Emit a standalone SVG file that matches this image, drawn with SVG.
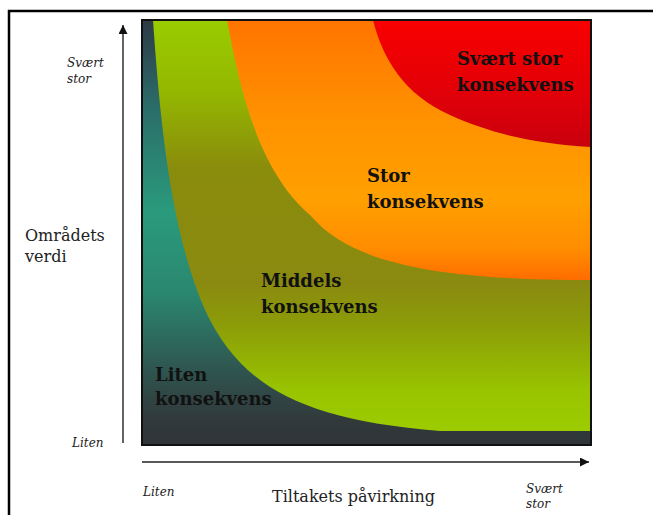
<svg xmlns="http://www.w3.org/2000/svg" width="653" height="515" viewBox="0 0 653 515">
  <defs>
    <linearGradient id="bg" gradientUnits="userSpaceOnUse" x1="0" y1="20" x2="0" y2="445">
      <stop offset="0" stop-color="#2e3a46"/>
      <stop offset="0.2" stop-color="#2b6c68"/>
      <stop offset="0.45" stop-color="#2a9a7c"/>
      <stop offset="0.64" stop-color="#2a8870"/>
      <stop offset="0.82" stop-color="#2f5650"/>
      <stop offset="0.94" stop-color="#31393b"/>
      <stop offset="1" stop-color="#2f3538"/>
    </linearGradient>
    <linearGradient id="greenG" gradientUnits="userSpaceOnUse" x1="0" y1="20" x2="0" y2="431">
      <stop offset="0" stop-color="#99cc00"/>
      <stop offset="0.17" stop-color="#94b800"/>
      <stop offset="0.36" stop-color="#8a8c0c"/>
      <stop offset="0.64" stop-color="#8a8a10"/>
      <stop offset="0.74" stop-color="#8c9c08"/>
      <stop offset="0.9" stop-color="#98c400"/>
      <stop offset="1" stop-color="#9ccc00"/>
    </linearGradient>
    <linearGradient id="orangeG" gradientUnits="userSpaceOnUse" x1="0" y1="20" x2="0" y2="282">
      <stop offset="0" stop-color="#ff7400"/>
      <stop offset="0.38" stop-color="#ff9200"/>
      <stop offset="0.68" stop-color="#ffa000"/>
      <stop offset="0.88" stop-color="#ff8c00"/>
      <stop offset="1" stop-color="#ff6a00"/>
    </linearGradient>
    <linearGradient id="redG" gradientUnits="userSpaceOnUse" x1="0" y1="20" x2="0" y2="148">
      <stop offset="0" stop-color="#f80000"/>
      <stop offset="0.6" stop-color="#e00008"/>
      <stop offset="1" stop-color="#c8000e"/>
    </linearGradient>
    <marker id="arrow" viewBox="0 0 10 10" refX="10" refY="5" markerWidth="9" markerHeight="9" markerUnits="userSpaceOnUse" orient="auto">
      <path d="M0,0 L10,5 L0,10 Z" fill="#111"/>
    </marker>
  </defs>
  <style>
    .big { font-family: "DejaVu Serif", "Liberation Serif", serif; font-weight: bold; font-size: 18px; fill: #111; }
    .axis { font-family: "DejaVu Serif", "Liberation Serif", serif; font-size: 16px; fill: #222; }
    .small { font-family: "DejaVu Serif", "Liberation Serif", serif; font-style: italic; font-size: 12px; fill: #222; }
    .axisline { stroke: #222; stroke-width: 1.4; fill: none; }
  </style>

  <rect x="0" y="0" width="653" height="515" fill="#ffffff"/>
  <!-- outer frame -->
  <path d="M9,515 V11 H653" fill="none" stroke="#000" stroke-width="2.5"/>

  <g id="liten">
    <rect x="142" y="20" width="449" height="425" fill="url(#bg)"/>
    <text class="big" x="155" y="381" fill="#1a211f">Liten</text>
    <text class="big" x="155" y="405" fill="#1a211f">konsekvens</text>
  </g>

  <g id="middels">
    <path d="M153,20 C160,120 170,230 205,310 C240,385 300,420 440,431 L591,431 L591,20 Z" fill="url(#greenG)"/>
    <text class="big" x="261" y="287">Middels</text>
    <text class="big" x="261" y="313">konsekvens</text>
  </g>

  <g id="stor">
    <path d="M227,20 C240,90 258,170 310,215 C350,262 430,280 591,280 L591,20 Z" fill="url(#orangeG)"/>
    <text class="big" x="367" y="182">Stor</text>
    <text class="big" x="367" y="208">konsekvens</text>
  </g>

  <g id="svaert-stor">
    <path d="M373,20 C383,60 405,95 450,115 C490,133 530,143 591,147 L591,20 Z" fill="url(#redG)"/>
    <text class="big" x="457" y="65">Svært stor</text>
    <text class="big" x="457" y="91">konsekvens</text>
  </g>

  <rect x="142" y="20" width="449" height="425" fill="none" stroke="#111" stroke-width="2"/>

  <g id="connectors">
    <line class="axisline" x1="123" y1="443" x2="123" y2="25" marker-end="url(#arrow)"/>
    <line class="axisline" x1="142" y1="462" x2="589" y2="462" marker-end="url(#arrow)"/>
  </g>

  <g id="y-axis-labels">
    <text class="small" x="67" y="67">Svært</text>
    <text class="small" x="67" y="83">stor</text>
    <text class="axis" x="25" y="241">Områdets</text>
    <text class="axis" x="25" y="262">verdi</text>
    <text class="small" x="72" y="447">Liten</text>
  </g>

  <g id="x-axis-labels">
    <text class="small" x="143" y="496">Liten</text>
    <text class="axis" x="272" y="502">Tiltakets påvirkning</text>
    <text class="small" x="526" y="493">Svært</text>
    <text class="small" x="526" y="508">stor</text>
  </g>
</svg>
